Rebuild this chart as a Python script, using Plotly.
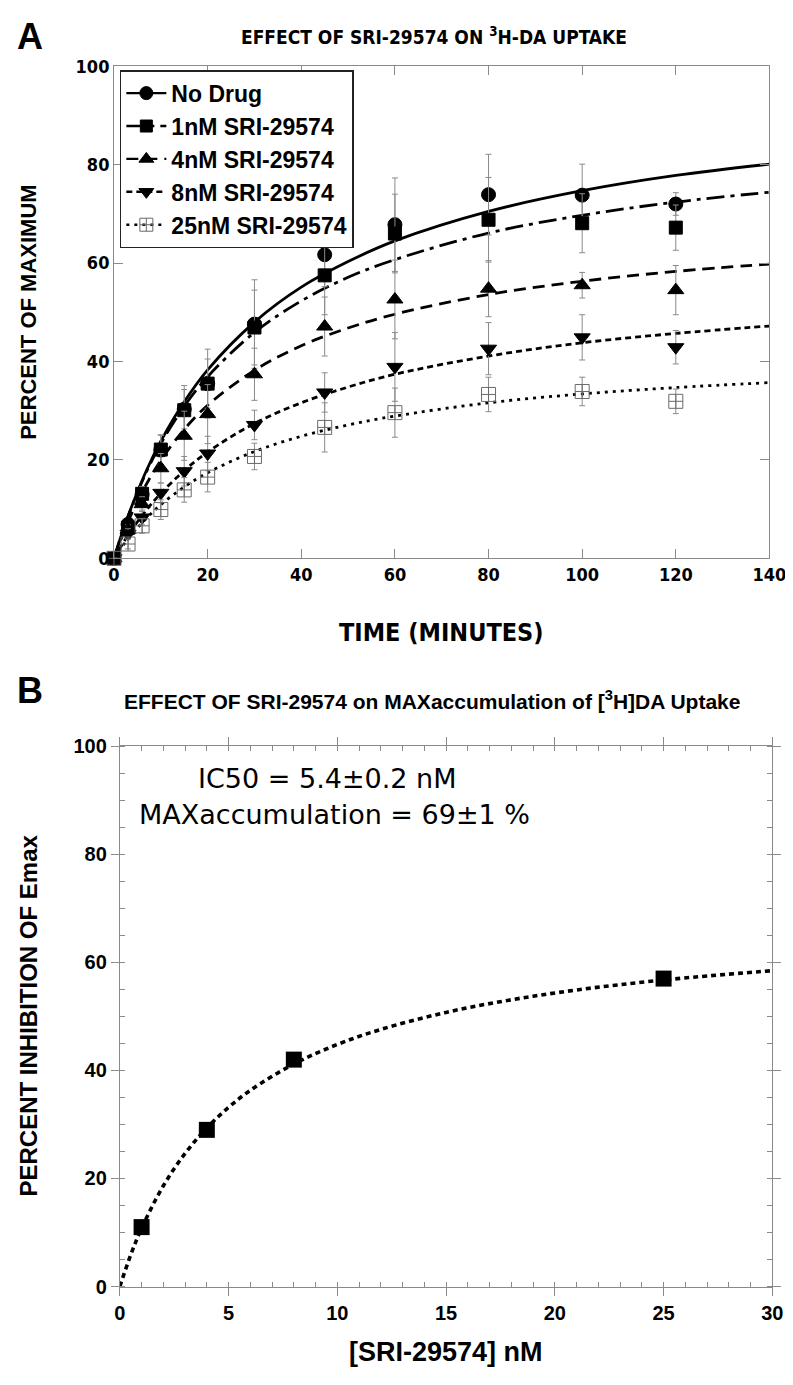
import plotly.graph_objects as go

W, H = 793, 1385

# ---------------- Panel A data ----------------
time_min = [0, 3, 6, 10, 15, 20, 30, 45, 60, 80, 100, 120]
no_drug = [0, 6.9, 13.0, 22.0, 30.3, 35.5, 47.6, 61.7, 67.8, 73.9, 73.8, 72.0]
no_drug_err = [0, 1, 1.5, 3, 4, 5, 9, 6.5, 9.5, 8.2, 6.3, 2.3]
nm1 = [0, 6.2, 13.1, 22.1, 30.1, 35.5, 46.9, 57.5, 66.0, 68.8, 68.1, 67.2]
nm1_err = [0, 1, 1.5, 3, 5, 7, 7.6, 8, 8, 8.6, 6, 4.6]
nm4 = [0, 5.8, 11.0, 18.3, 24.9, 29.3, 37.4, 47.1, 52.6, 54.8, 55.5, 54.5]
nm4_err = [0, 1, 1.5, 3, 5, 6, 5.3, 6, 8, 5.7, 2.6, 5]
nm8 = [0, 5.0, 8.3, 13.3, 17.7, 21.3, 27.1, 33.7, 38.9, 42.6, 44.9, 42.9]
nm8_err = [0, 1, 1.5, 2, 3, 3.5, 3, 4, 7, 5.3, 4.6, 3.4]
nm25 = [0, 2.9, 6.6, 9.9, 13.9, 16.5, 20.7, 26.6, 29.6, 33.3, 33.9, 31.9]
nm25_err = [0, 1, 1.5, 2, 2.5, 3, 2.7, 5, 5, 3.5, 2.9, 2.5]

# fitted curves
fit_t = [0, 2, 4, 7, 10, 15, 20, 30, 40, 50, 60, 80, 100, 120, 140]
fit_no_drug = [0, 5.9, 11.1, 18.0, 23.8, 31.8, 38.3, 48.0, 55.1, 60.3, 64.5, 70.5, 74.7, 77.8, 80.1]
fit_nm1 = [0, 5.9, 11.0, 17.7, 23.3, 30.9, 36.9, 45.9, 52.3, 57.1, 60.7, 66.1, 69.7, 72.4, 74.4]
fit_nm4 = [0, 5.1, 9.6, 15.2, 19.9, 26.2, 31.1, 38.2, 43.2, 46.8, 49.6, 53.6, 56.3, 58.3, 59.8]
fit_nm8 = [0, 3.2, 6.1, 9.9, 13.2, 17.8, 21.6, 27.4, 31.6, 34.8, 37.4, 41.1, 43.8, 45.7, 47.2]
fit_nm25 = [0, 2.7, 5.1, 8.2, 10.9, 14.5, 17.4, 21.7, 24.8, 27.1, 28.9, 31.6, 33.4, 34.7, 35.7]

series_names = ["No Drug", "1nM SRI-29574", "4nM SRI-29574", "8nM SRI-29574", "25nM SRI-29574"]

# ---------------- Panel B data ----------------
conc_nM = [1, 4, 8, 25]
inhibition = [11, 29, 42, 57]
fit_conc = [0, 0.5, 1, 2, 3, 4, 5, 6, 8, 10, 12, 15, 18, 21, 25, 30]
fit_inhib = [0, 5.85, 10.78, 18.65, 24.64, 29.36, 33.17, 36.32, 41.19, 44.81, 47.59, 50.74, 53.08, 54.89, 56.74, 58.47]

x_ticks_a = [0, 20, 40, 60, 80, 100, 120, 140]
y_ticks_a = [0, 20, 40, 60, 80, 100]
x_ticks_b = [0, 5, 10, 15, 20, 25, 30]
y_ticks_b = [0, 20, 40, 60, 80, 100]


def px(x):
    return x / W


def py(y):
    return 1 - y / H


NARROW = "Liberation Sans Narrow, DejaVu Sans Condensed, Arial Narrow, sans-serif"
ARIAL = "Liberation Sans, Arial, Helvetica, sans-serif"
GRAY = "#8a8a8a"

fig = go.Figure()

styles = [
    dict(symbol="circle", color="black", size=14, dash="solid", lw=2.8),
    dict(symbol="square", color="black", size=13, dash="18px,6px,4px,6px", lw=2.8),
    dict(symbol="triangle-up", color="black", size=14, dash="12px,7px", lw=2.8),
    dict(symbol="triangle-down", color="black", size=14, dash="6px,4px", lw=2.8),
    dict(symbol="square-cross-open", color="#6a6a6a", size=14, dash="3px,5px", lw=2.8),
]
vals = [no_drug, nm1, nm4, nm8, nm25]
errs = [no_drug_err, nm1_err, nm4_err, nm8_err, nm25_err]
fits = [fit_no_drug, fit_nm1, fit_nm4, fit_nm8, fit_nm25]

for name, st, fv in zip(series_names, styles, fits):
    fig.add_trace(go.Scatter(
        x=fit_t, y=fv, mode="lines", line=dict(color="black", width=st["lw"], dash=st["dash"], shape="spline"),
        showlegend=False, xaxis="x", yaxis="y", hoverinfo="skip"))

for name, st, v, e in zip(series_names, styles, vals, errs):
    fig.add_trace(go.Scatter(
        x=time_min, y=v, mode="markers",
        marker=dict(symbol=st["symbol"], color=st["color"], size=st["size"], line=dict(width=1, color=st["color"])),
        error_y=dict(type="data", array=e, color=GRAY, thickness=1, width=3),
        showlegend=False, cliponaxis=False, xaxis="x", yaxis="y"))

# legend entries
for name, st in zip(series_names, styles):
    fig.add_trace(go.Scatter(
        x=[None], y=[None], mode="lines+markers", name="<b>" + name + "</b>",
        line=dict(color="black", width=2.4, dash=st["dash"]),
        marker=dict(symbol=st["symbol"], color=st["color"], size=st["size"] - 1, line=dict(width=1, color=st["color"])),
        xaxis="x", yaxis="y"))

# Panel B
fig.add_trace(go.Scatter(
    x=fit_conc, y=fit_inhib, mode="lines", line=dict(color="black", width=3.6, dash="5px,4px", shape="spline"),
    showlegend=False, xaxis="x2", yaxis="y2", hoverinfo="skip"))
fig.add_trace(go.Scatter(
    x=conc_nM, y=inhibition, mode="markers", marker=dict(symbol="square", color="black", size=16),
    showlegend=False, cliponaxis=False, xaxis="x2", yaxis="y2"))

axis_a = dict(showgrid=False, zeroline=False, showline=True, linecolor=GRAY, linewidth=1,
              ticks="inside", ticklen=9, tickcolor=GRAY, tickwidth=1, mirror="ticks",
              tickfont=dict(family=NARROW, size=18, color="black"))
axis_b = dict(showgrid=False, zeroline=False, showline=True, linecolor=GRAY, linewidth=1,
              ticks="outside", ticklen=8, tickcolor=GRAY, tickwidth=1, mirror="ticks",
              tickfont=dict(family=ARIAL, size=20, color="black"))

fig.update_layout(
    width=W, height=H, margin=dict(l=0, r=0, t=0, b=0),
    paper_bgcolor="white", plot_bgcolor="white",
    xaxis=dict(axis_a, domain=[px(103), px(778)], range=[0, 140], tickvals=x_ticks_a,
               ticktext=["<b>%d</b>" % v for v in x_ticks_a], anchor="y"),
    yaxis=dict(axis_a, domain=[py(548), py(48)], range=[0, 100], tickvals=y_ticks_a,
               ticktext=["<b>%d</b>" % v for v in y_ticks_a], anchor="x"),
    xaxis2=dict(axis_b, domain=[px(109), px(781)], range=[0, 30], tickvals=x_ticks_b,
                ticktext=["<b>%d</b>" % v for v in x_ticks_b], anchor="y2",
                minor=dict(dtick=1, tick0=0, ticks="inside", ticklen=5, tickcolor=GRAY)),
    yaxis2=dict(axis_b, domain=[py(1288), py(739)], range=[0, 100], tickvals=y_ticks_b,
                ticktext=["<b>%d</b>" % v for v in y_ticks_b], anchor="x2",
                minor=dict(dtick=5, tick0=0, ticks="inside", ticklen=5, tickcolor=GRAY)),
    legend=dict(x=px(109), y=py(52), xanchor="left", yanchor="top", bgcolor="white",
                bordercolor="#222", borderwidth=1.5, font=dict(family=ARIAL, size=23, color="black"),
                tracegroupgap=0, itemwidth=40),
    showlegend=True,
)

ann = [
    dict(text="<b>A</b>", x=px(16), y=py(18), font=dict(family=ARIAL, size=36)),
    dict(text="<b>EFFECT OF SRI-29574 ON <sup>3</sup>H-DA UPTAKE</b>", x=px(433), y=py(17),
         font=dict(family=NARROW, size=19)),
    dict(text="<b>PERCENT OF MAXIMUM</b>", x=px(15), y=py(298), textangle=-90,
         font=dict(family=ARIAL, size=22)),
    dict(text="<b>TIME (MINUTES)</b>", x=px(440), y=py(623), font=dict(family=NARROW, size=25)),
    dict(text="<b>B</b>", x=px(16), y=py(682), font=dict(family=ARIAL, size=36)),
    dict(text="<b>EFFECT OF SRI-29574 on MAXaccumulation of [<sup>3</sup>H]DA Uptake</b>", x=px(430), y=py(692),
         font=dict(family=ARIAL, size=21)),
    dict(text="<b>PERCENT INHIBITION OF Emax</b>", x=px(15), y=py(1013), textangle=-90,
         font=dict(family=ARIAL, size=24)),
    dict(text="<b>[SRI-29574] nM</b>", x=px(445), y=py(1355), font=dict(family=ARIAL, size=27)),
    dict(text="IC50 = 5.4±0.2 nM", x=px(322), y=py(772), font=dict(family="DejaVu Sans", size=27)),
    dict(text="MAXaccumulation = 69±1 %", x=px(330), y=py(808), font=dict(family="DejaVu Sans", size=27)),
]
for a in ann:
    a.update(xref="paper", yref="paper", showarrow=False, xanchor="center", yanchor="middle")
    a["font"].setdefault("color", "black")
fig.update_layout(annotations=ann)

fig.write_html("out.html")
